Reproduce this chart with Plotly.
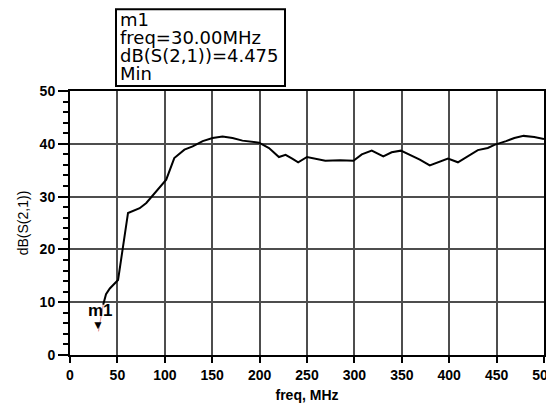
import plotly.graph_objects as go

freq_mhz = [30, 35, 38, 42, 50.7, 61.2, 73.5, 80.5, 91, 101.5, 110, 120.7, 129.4, 140, 150.4,
            160.9, 171.4, 181.9, 199.4, 209.9, 220.4, 227.4, 234.4, 240.7, 250, 269.3, 285,
            299, 307.8, 318.3, 330.5, 339.3, 349, 369, 379.5, 398.7, 409.2, 430.2, 440.7,
            447.7, 460, 468.7, 478.5, 489.7, 500]
db_s21 = [4.475, 9.5, 11.5, 12.6, 14.2, 26.9, 27.8, 28.8, 31.0, 33.2, 37.3, 38.9, 39.5, 40.5, 41.1,
          41.4, 41.1, 40.6, 40.2, 39.2, 37.5, 37.9, 37.2, 36.5, 37.5, 36.8, 36.9,
          36.8, 38.0, 38.7, 37.6, 38.4, 38.7, 37.0, 35.9, 37.2, 36.5, 38.8, 39.2,
          39.8, 40.5, 41.1, 41.5, 41.3, 40.9]

x_ticks = [0, 50, 100, 150, 200, 250, 300, 350, 400, 450, 500]
y_ticks = [0, 10, 20, 30, 40, 50]

marker_name = "m1"
marker_freq = 30.00
marker_val = 4.475

FONT = "Liberation Sans, Arial, sans-serif"
BOX_FONT = "DejaVu Sans, Liberation Sans, sans-serif"

# page has an 8px body margin; compensate so the plot lands where the reference has it
PAGE_OFF = 8
W, H = 554 - PAGE_OFF, 411 - PAGE_OFF
L, R, T, B = 70 - PAGE_OFF, 10, 91 - PAGE_OFF, 56
plot_w = W - L - R
plot_h = H - T - B

def px_x(px):  # reference page pixel -> paper fraction
    return (px - 70) / plot_w

def px_y(py):
    return (355 - py) / plot_h

fig = go.Figure()
fig.add_trace(go.Scatter(x=freq_mhz[1:], y=db_s21[1:], mode="lines",
                         line=dict(color="black", width=2), showlegend=False))
fig.add_trace(go.Scatter(x=freq_mhz[:2], y=db_s21[:2], mode="lines",
                         line=dict(color="#e8a0a0", width=1.2), showlegend=False))

# marker triangle (tip at data point) + label
fig.add_annotation(x=marker_freq, y=marker_val, xref="x", yref="y",
                   text="▼", showarrow=False, xanchor="center", yanchor="bottom", yshift=-3,
                   font=dict(family=FONT, size=12, color="black"))
fig.add_annotation(x=marker_freq, y=marker_val, xref="x", yref="y",
                   text="<b>" + marker_name + "</b>", showarrow=False,
                   xanchor="center", yanchor="middle", yshift=21, xshift=2,
                   font=dict(family=FONT, size=17, color="black"))

# marker readout box
fig.add_shape(type="rect", xref="paper", yref="paper",
              x0=px_x(116), x1=px_x(285), y0=px_y(86), y1=px_y(PAGE_OFF + 1.2),
              line=dict(color="black", width=2), fillcolor="white", layer="above")
box_lines = [marker_name, "freq=%.2fMHz" % marker_freq, "dB(S(2,1))=%.3f" % marker_val, "Min"]
pitch = 18.3
for i, line in enumerate(box_lines):
    fig.add_annotation(xref="paper", yref="paper", x=px_x(118),
                       y=px_y(19 + i * pitch),
                       xanchor="left", yanchor="middle", text=line, showarrow=False,
                       font=dict(family=BOX_FONT, size=18, color="black"))

fig.update_xaxes(range=[0, 500], tickvals=x_ticks, ticks="outside", ticklen=6, tickwidth=2,
                 tickcolor="black", showline=True, linecolor="black", linewidth=2, mirror=True,
                 showgrid=True, gridcolor="#4d4d4d", gridwidth=2, zeroline=False, automargin=False,
                 ticklabeloverflow="allow",
                 tickfont=dict(family=FONT, size=14, color="black", weight="bold"),
                 title=dict(text="<b>freq, MHz</b>", font=dict(family=FONT, size=14, color="black"),
                            standoff=8))
fig.update_yaxes(range=[0, 50], tickvals=y_ticks, ticks="outside", ticklen=10, tickwidth=2,
                 tickcolor="black", showline=True, linecolor="black", linewidth=2, mirror=True,
                 showgrid=True, gridcolor="#4d4d4d", gridwidth=2, zeroline=False, automargin=False,
                 ticklabeloverflow="allow",
                 minor=dict(dtick=2, ticks="outside", ticklen=5, tickwidth=1.5, tickcolor="black",
                            showgrid=False),
                 tickfont=dict(family=FONT, size=14, color="black", weight="bold"),
                 title=dict(text="dB(S(2,1))", font=dict(family=FONT, size=14, color="black"),
                            standoff=8))

fig.update_layout(width=W, height=H, margin=dict(l=L, r=R, t=T, b=B),
                  plot_bgcolor="white", paper_bgcolor="white")

fig.write_html("out.html")
